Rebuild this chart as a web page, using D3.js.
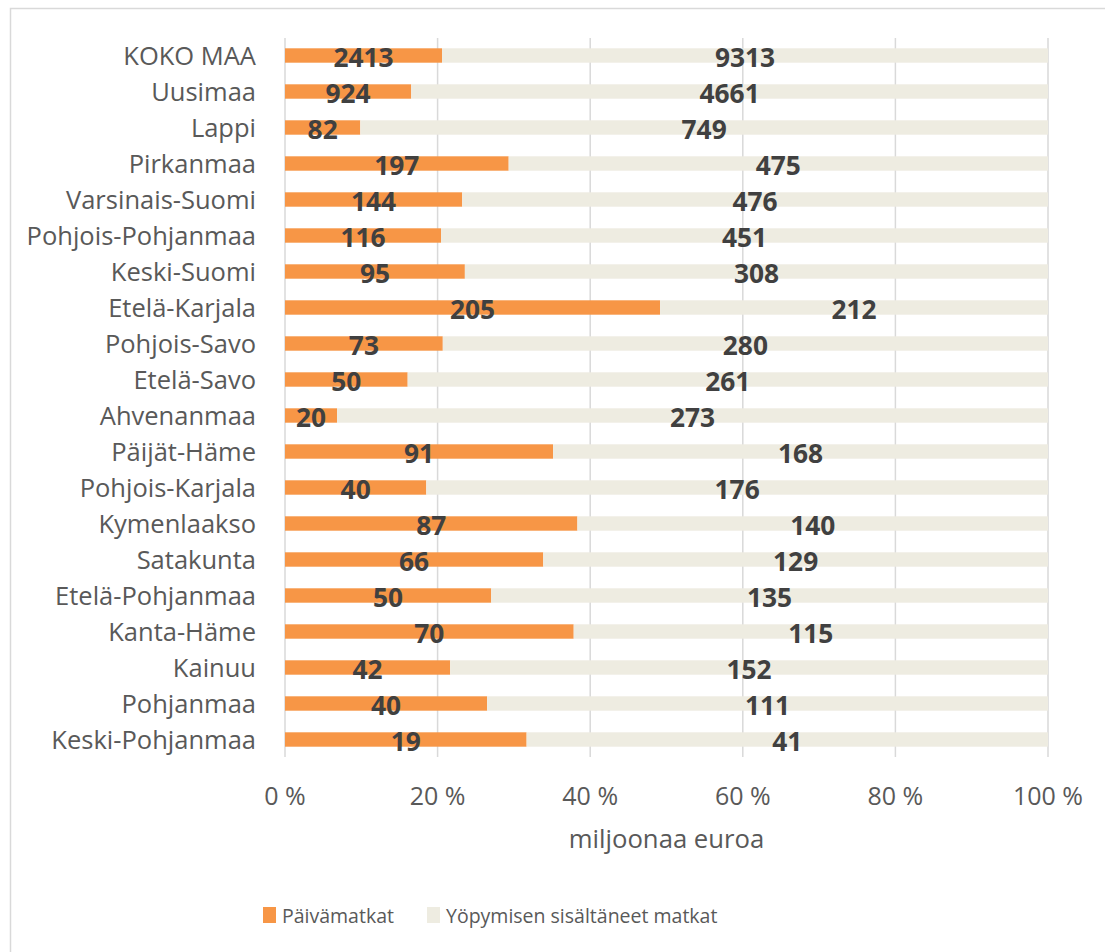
<!DOCTYPE html>
<html>
<head>
<meta charset="utf-8">
<title>Matkojen kulutus maakunnittain</title>
<script src="https://cdn.jsdelivr.net/npm/d3@7"></script>
<style>
body { margin: 0; background: #fff; font-family: 'Open Sans', 'Liberation Sans', sans-serif; }
text { fill: #595959; }
.val { fill: #404040; font-weight: bold; }
</style>
</head>
<body>
<svg id="chart"></svg>
<script>
// Data
var regions = ['KOKO MAA', 'Uusimaa', 'Lappi', 'Pirkanmaa', 'Varsinais-Suomi', 'Pohjois-Pohjanmaa',
    'Keski-Suomi', 'Etelä-Karjala', 'Pohjois-Savo', 'Etelä-Savo', 'Ahvenanmaa', 'Päijät-Häme',
    'Pohjois-Karjala', 'Kymenlaakso', 'Satakunta', 'Etelä-Pohjanmaa', 'Kanta-Häme', 'Kainuu',
    'Pohjanmaa', 'Keski-Pohjanmaa'];
var dayTrips = [2413, 924, 82, 197, 144, 116, 95, 205, 73, 50, 20, 91, 40, 87, 66, 50, 70, 42, 40, 19];
var overnightTrips = [9313, 4661, 749, 475, 476, 451, 308, 212, 280, 261, 273, 168, 176, 140, 129, 135, 115, 152, 111, 41];
var seriesNames = ['Päivämatkat', 'Yöpymisen sisältäneet matkat'];
var tickValues = [0, 0.2, 0.4, 0.6, 0.8, 1];

var vWidth = 1105, vHeight = 952;
var colors = ['#F79646', '#EEECE1'];

var svg = d3.select('#chart').attr('width', vWidth).attr('height', vHeight);

// chart border
svg.append('rect')
    .attr('x', 10.5).attr('y', 8.5)
    .attr('width', 1200).attr('height', 1000)
    .attr('fill', 'none').attr('stroke', '#d9d9d9').attr('stroke-width', 1.5);

var x = d3.scaleLinear().domain([0, 1]).range([285, 1048]);
var y = d3.scaleBand().domain(regions).range([37.5, 757.5]).paddingInner(0.6).paddingOuter(0.3);

// rows: share of each series
var rows = regions.map(function (r, i) {
    var total = dayTrips[i] + overnightTrips[i];
    return { region: r, vals: [dayTrips[i], overnightTrips[i]], total: total };
});
var stack = d3.stack().keys([0, 1]).value(function (d, k) { return d.vals[k] / d.total; });
var layers = stack(rows);

// gridlines
svg.append('g').selectAll('line')
    .data(tickValues).enter().append('line')
    .attr('x1', function (d) { return x(d); }).attr('x2', function (d) { return x(d); })
    .attr('y1', 38).attr('y2', 757)
    .attr('stroke', '#d9d9d9').attr('stroke-width', 1.5);

// bars
var layer = svg.append('g').selectAll('g')
    .data(layers).enter().append('g')
    .attr('fill', function (d, i) { return colors[i]; });

layer.selectAll('rect')
    .data(function (d) { return d; })
    .enter().append('rect')
    .attr('x', function (d) { return x(d[0]); })
    .attr('width', function (d) { return x(d[1]) - x(d[0]); })
    .attr('y', function (d) { return y(d.data.region); })
    .attr('height', y.bandwidth());

// value labels
layer.selectAll('text')
    .data(function (d) { return d.map(function (p) { p.key = d.key; return p; }); })
    .enter().append('text')
    .attr('class', 'val')
    .attr('x', function (d) { return (x(d[0]) + x(d[1])) / 2; })
    .attr('y', function (d) { return y(d.data.region) + y.bandwidth() / 2 + 11.5; })
    .attr('text-anchor', 'middle')
    .style('font-size', '26.3px')
    .text(function (d) { return d.data.vals[d.key]; });

// category labels
svg.append('g').selectAll('text')
    .data(regions).enter().append('text')
    .attr('x', 256)
    .attr('y', function (d) { return y(d) + y.bandwidth() / 2 + 9; })
    .attr('text-anchor', 'end')
    .style('font-size', '25.5px')
    .text(function (d) { return d; });

// x axis tick labels
svg.append('g').selectAll('text')
    .data(tickValues).enter().append('text')
    .attr('x', function (d) { return x(d); })
    .attr('y', 805)
    .attr('text-anchor', 'middle')
    .style('font-size', '25px')
    .text(function (d) { return Math.round(d * 100) + ' %'; });

svg.append('text')
    .attr('x', (x(0) + x(1)) / 2).attr('y', 848)
    .attr('text-anchor', 'middle')
    .style('font-size', '25.7px')
    .text('miljoonaa euroa');

// legend
var legendX = [263, 427];
var legend = svg.append('g').selectAll('g')
    .data(seriesNames).enter().append('g')
    .attr('transform', function (d, i) { return 'translate(' + legendX[i] + ',907)'; });
legend.append('rect').attr('width', 13).attr('height', 16)
    .attr('fill', function (d, i) { return colors[i]; });
legend.append('text').attr('x', 19).attr('y', 16)
    .style('font-size', '19.5px')
    .text(function (d) { return d; });
</script>
</body>
</html>
